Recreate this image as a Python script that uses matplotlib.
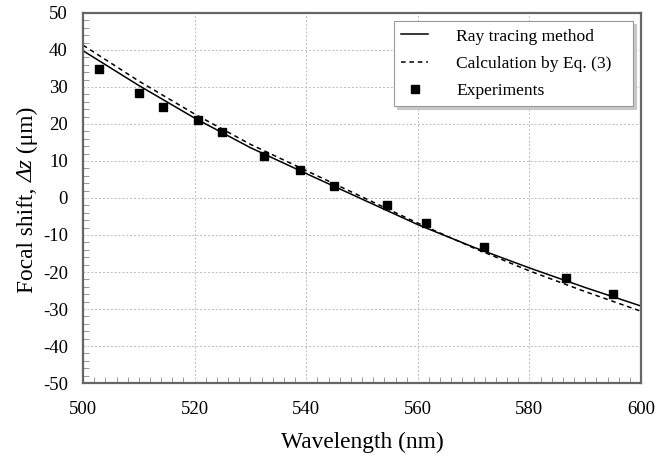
import matplotlib

matplotlib.use("Agg")
import matplotlib.pyplot as plt  # noqa: E402
from matplotlib.ticker import MultipleLocator  # noqa: E402

plt.rcParams["font.family"] = ["Liberation Serif", "DejaVu Serif"]
plt.rcParams["axes.unicode_minus"] = False

# curves
WL_CURVE = [500, 510, 520, 530, 540, 550, 560, 570, 580, 590, 600]
RAY_TRACING = [39.8, 30.4, 21.6, 13.6, 6.6, -0.3, -7.2, -13.3, -18.9, -24.2, -29.2]
EQ3 = [41.3, 31.6, 22.7, 14.5, 7.4, 0.3, -6.8, -13.5, -19.7, -25.3, -30.6]

# experimental points
WL_EXP = [502.9, 510.0, 514.3, 520.6, 524.9, 532.4, 538.9, 545.0,
          554.5, 561.5, 571.9, 586.6, 595.0]
DZ_EXP = [34.9, 28.4, 24.6, 21.1, 17.8, 11.4, 7.6, 3.2,
          -1.9, -6.8, -13.2, -21.6, -25.9]

YLABEL_PARTS = [("Focal shift, ", "normal"), ("Δz", "italic"), (" (μm)", "normal")]


def _rotated_label(fig, x, yc, parts, size):
    # y label built from pieces so that only "Δz" is italic
    renderer = fig.canvas.get_renderer()
    texts = [fig.text(x, 0, s, rotation=90, rotation_mode="anchor",
                      ha="left", va="baseline", fontsize=size, fontstyle=st)
             for s, st in parts]
    lengths = [t.get_window_extent(renderer).height for t in texts]
    y = yc * fig.bbox.height - sum(lengths) / 2
    for t, h in zip(texts, lengths):
        t.set_position((x, y / fig.bbox.height))
        y += h


fig = plt.figure(figsize=(6.68, 4.57), dpi=100)
ax = fig.add_axes([0.1243, 0.1619, 0.8353, 0.8097])

ax.plot(WL_CURVE, RAY_TRACING, color="black", linewidth=1.1,
        label="Ray tracing method")
ax.plot(WL_CURVE, EQ3, color="black", linewidth=1.1, linestyle=(0, (3, 2.5)),
        label="Calculation by Eq. (3)")
ax.plot(WL_EXP, DZ_EXP, linestyle="none", marker="s", markersize=5.2,
        color="black", label="Experiments")

ax.set_xlim(500, 600)
ax.set_ylim(-50, 50)
ax.xaxis.set_major_locator(MultipleLocator(20))
ax.yaxis.set_major_locator(MultipleLocator(10))
ax.xaxis.set_minor_locator(MultipleLocator(2))
ax.yaxis.set_minor_locator(MultipleLocator(2))
ax.tick_params(which="major", length=0, labelsize=13.5)
ax.tick_params(axis="x", which="major", pad=13)
ax.tick_params(axis="y", which="major", pad=11)
ax.tick_params(which="minor", direction="in", length=4, width=0.6,
               color="#888888")
ax.grid(which="major", color="#bbbbbb", linestyle=(0, (2, 2)), linewidth=0.7)

for side in ax.spines.values():
    side.set_color("#666666")
    side.set_linewidth(1.6)

ax.set_xlabel("Wavelength (nm)", fontsize=16.8, labelpad=10)
_rotated_label(fig, 0.0494, 0.5624, YLABEL_PARTS, 16.8)

leg = ax.legend(loc="upper left", bbox_to_anchor=(0.5573, 0.7595, 0.4283, 0.219),
                mode="expand", borderaxespad=0, fontsize=12.6, frameon=True,
                fancybox=False,
                shadow={"ox": 2, "oy": -2, "color": "#c8c8c8", "alpha": 1},
                handlelength=1.55, borderpad=0.42, labelspacing=0.62,
                handletextpad=1.6)
leg.get_frame().set_edgecolor("#999999")
leg.get_frame().set_linewidth(0.8)

fig.savefig("out.png", dpi=100)
